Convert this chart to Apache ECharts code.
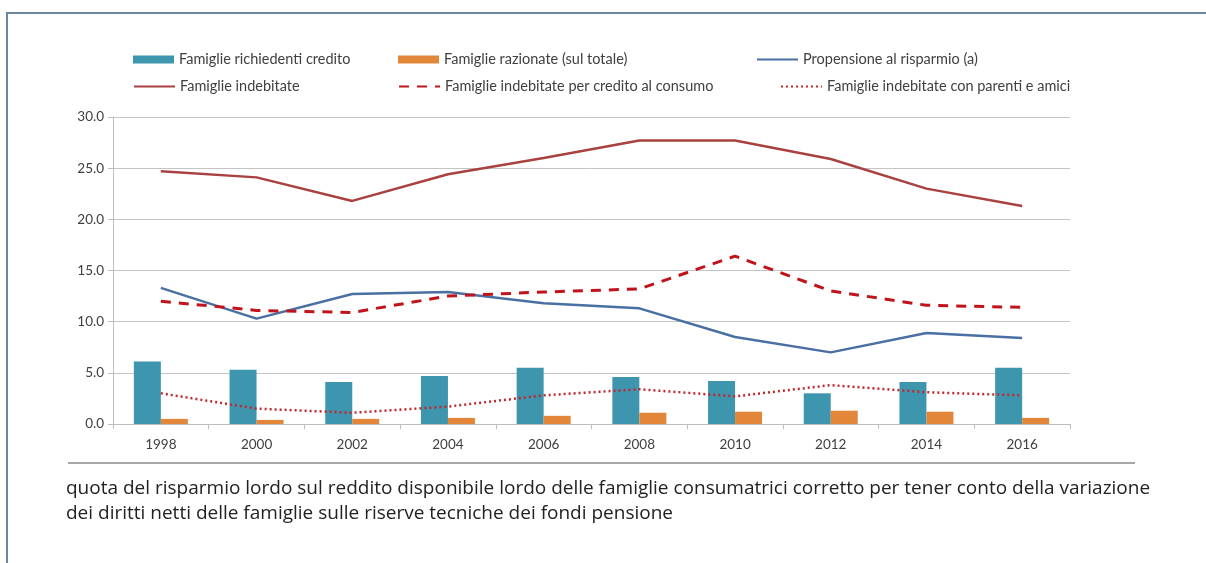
<!DOCTYPE html>
<html>
<head>
<meta charset="utf-8">
<script src="https://cdn.jsdelivr.net/npm/echarts@6/dist/echarts.min.js"></script>
<style>
  html, body { margin: 0; padding: 0; background: #fff; }
  #chart { width: 1206px; height: 563px; }
</style>
</head>
<body>
<div id="chart"></div>
<script>
// anni
const years = ['1998', '2000', '2002', '2004', '2006', '2008', '2010', '2012', '2014', '2016'];

// barre
const richiedentiCredito = [6.1, 5.3, 4.1, 4.7, 5.5, 4.6, 4.2, 3.0, 4.1, 5.5];
const razionate = [0.5, 0.4, 0.5, 0.6, 0.8, 1.1, 1.2, 1.3, 1.2, 0.6];

// linee
const propensione = [13.3, 10.3, 12.7, 12.9, 11.8, 11.3, 8.5, 7.0, 8.9, 8.4];
const indebitate = [24.7, 24.1, 21.8, 24.4, 26.0, 27.7, 27.7, 25.9, 23.0, 21.3];
const indebitateConsumo = [12.0, 11.1, 10.9, 12.5, 12.9, 13.2, 16.4, 13.0, 11.6, 11.4];
const indebitateParenti = [3.0, 1.5, 1.1, 1.7, 2.8, 3.4, 2.7, 3.8, 3.1, 2.8];

const nota = 'quota del risparmio lordo sul reddito disponibile lordo delle famiglie consumatrici corretto per tener conto della variazione\ndei diritti netti delle famiglie sulle riserve tecniche dei fondi pensione';

const font = 'Lato, "Open Sans", sans-serif';
const txt = { color: '#404040', fontSize: 13.5, fontFamily: font };
const legTxt = { color: '#404040', fontSize: 14.5, fontFamily: font };

const chart = echarts.init(document.getElementById('chart'));

// una legenda per voce, così posso posizionarle come nell'originale
function leg(name, left, top, opts) {
  return Object.assign({
    data: [name], left: left, top: top,
    itemWidth: 41, itemHeight: 8, itemGap: 0,
    textStyle: legTxt, selectedMode: false, padding: 0
  }, opts || {});
}
// niente pallino sulle icone delle linee
const noDot = { itemStyle: { opacity: 0 } };

const option = {
  animation: false,
  backgroundColor: '#fff',
  legend: [
    leg('Famiglie richiedenti credito', 133, 52, { icon: 'rect' }),
    leg('Famiglie razionate (sul totale)', 398, 52, { icon: 'rect' }),
    leg('Propensione al risparmio (a)', 756, 52, noDot),
    leg('Famiglie indebitate', 133, 79, noDot),
    leg('Famiglie indebitate per credito al consumo', 398, 79, noDot),
    leg('Famiglie indebitate con parenti e amici', 780, 79, noDot)
  ],
  grid: { left: 113, right: 136, top: 117, bottom: 139 },
  xAxis: {
    type: 'category',
    data: years,
    axisLine: { lineStyle: { color: '#bdbdbd' } },
    axisTick: { show: true, length: 5, lineStyle: { color: '#bdbdbd' } },
    axisLabel: Object.assign({ margin: 14 }, txt)
  },
  yAxis: {
    type: 'value',
    min: 0, max: 30, interval: 5,
    axisLine: { show: true, lineStyle: { color: '#bdbdbd' } },
    axisTick: { show: true, length: 5, lineStyle: { color: '#bdbdbd' } },
    axisLabel: Object.assign({ margin: 9, formatter: v => v.toFixed(1) }, txt),
    splitLine: { lineStyle: { color: '#c4c4c4', width: 1 } }
  },
  series: [
    {
      name: 'Famiglie richiedenti credito', type: 'bar', data: richiedentiCredito,
      barWidth: 27, barGap: '0%', itemStyle: { color: '#3e95ae' }
    },
    {
      name: 'Famiglie razionate (sul totale)', type: 'bar', data: razionate,
      barWidth: 27, barGap: '0%', itemStyle: { color: '#e2873a' }
    },
    {
      name: 'Propensione al risparmio (a)', type: 'line', data: propensione, symbol: 'none',
      lineStyle: { color: '#4a6fa3', width: 2.5 }, itemStyle: { color: '#4a6fa3' }
    },
    {
      name: 'Famiglie indebitate', type: 'line', data: indebitate, symbol: 'none',
      lineStyle: { color: '#a8413f', width: 2.5 }, itemStyle: { color: '#a8413f' }
    },
    {
      name: 'Famiglie indebitate per credito al consumo', type: 'line', data: indebitateConsumo, symbol: 'none',
      lineStyle: { color: '#c0141c', width: 3, type: [10, 8] }, itemStyle: { color: '#c0141c' }
    },
    {
      name: 'Famiglie indebitate con parenti e amici', type: 'line', data: indebitateParenti, symbol: 'none',
      lineStyle: { color: '#c0282e', width: 2.5, type: [2, 3] }, itemStyle: { color: '#c0282e' }
    }
  ],
  graphic: [
    // cornice
    { type: 'polyline', shape: { points: [[7, 563], [7, 13], [1206, 13]] },
      style: { stroke: '#6b86a0', lineWidth: 2, fill: null } },
    // linea sotto il grafico
    { type: 'line', shape: { x1: 68, y1: 463, x2: 1135, y2: 463 },
      style: { stroke: '#8a8a8a', lineWidth: 1.5 } },
    { type: 'text', left: 66, top: 476,
      style: { text: nota, fill: '#222', font: '19px "Open Sans", sans-serif', lineHeight: 25 } }
  ]
};

chart.setOption(option);
</script>
</body>
</html>
